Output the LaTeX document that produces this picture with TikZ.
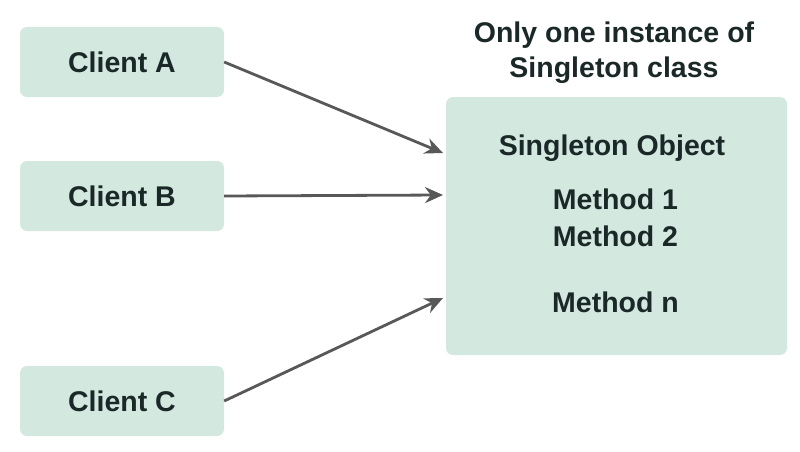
\documentclass[tikz,border=0pt]{standalone}
\usepackage{fontspec}
\setmainfont{Liberation Sans}
\usetikzlibrary{positioning,arrows.meta}

\definecolor{boxgreen}{HTML}{D3E8DE}
\definecolor{textdark}{HTML}{1B2828}
\definecolor{arrowgray}{HTML}{585858}

\begin{document}
\begin{tikzpicture}[x=1pt,y=-1pt,
	client/.style={fill=boxgreen, rounded corners=7pt, minimum width=204pt,
		minimum height=70pt, text=textdark, font=\bfseries\fontsize{28.5}{32}\selectfont},
	plain/.style={text=textdark, inner sep=0pt, font=\bfseries\fontsize{28.5}{32}\selectfont},
	link/.style={draw=arrowgray, line width=2.8pt, -{Stealth[length=18pt,width=16pt]}}]
	\useasboundingbox (0,0) rectangle (800,452);
	% clients on the left
	\node[client] (ca) at (122,62) {Client A};
	\node[client] (cb) at (122,196) {Client B};
	\node[client] (cc) at (122,401) {Client C};
	% the single instance
	\node[fill=boxgreen, rounded corners=7pt, minimum width=341pt, minimum height=258pt] (obj) at (616.5,226) {};
	\node[plain, align=center] (title) at (614,53) {Only one instance of\\[3pt]Singleton class};
	\node[plain] (name) at (612,148) {Singleton Object};
	\node[plain] (m1) at (615.5,199) {Method 1};
	\node[plain] (m2) at (615.5,236) {Method 2};
	\node[plain] (mn) at (615.5,302) {Method n};
	% arrows into the object
	\coordinate (ina) at (443,153);
	\coordinate (inb) at (443,195);
	\coordinate (inc) at (443,298);
	\draw[link] (ca.east) -- (ina);
	\draw[link] (cb.east) -- (inb);
	\draw[link] (cc.east) -- (inc);
\end{tikzpicture}
\end{document}
